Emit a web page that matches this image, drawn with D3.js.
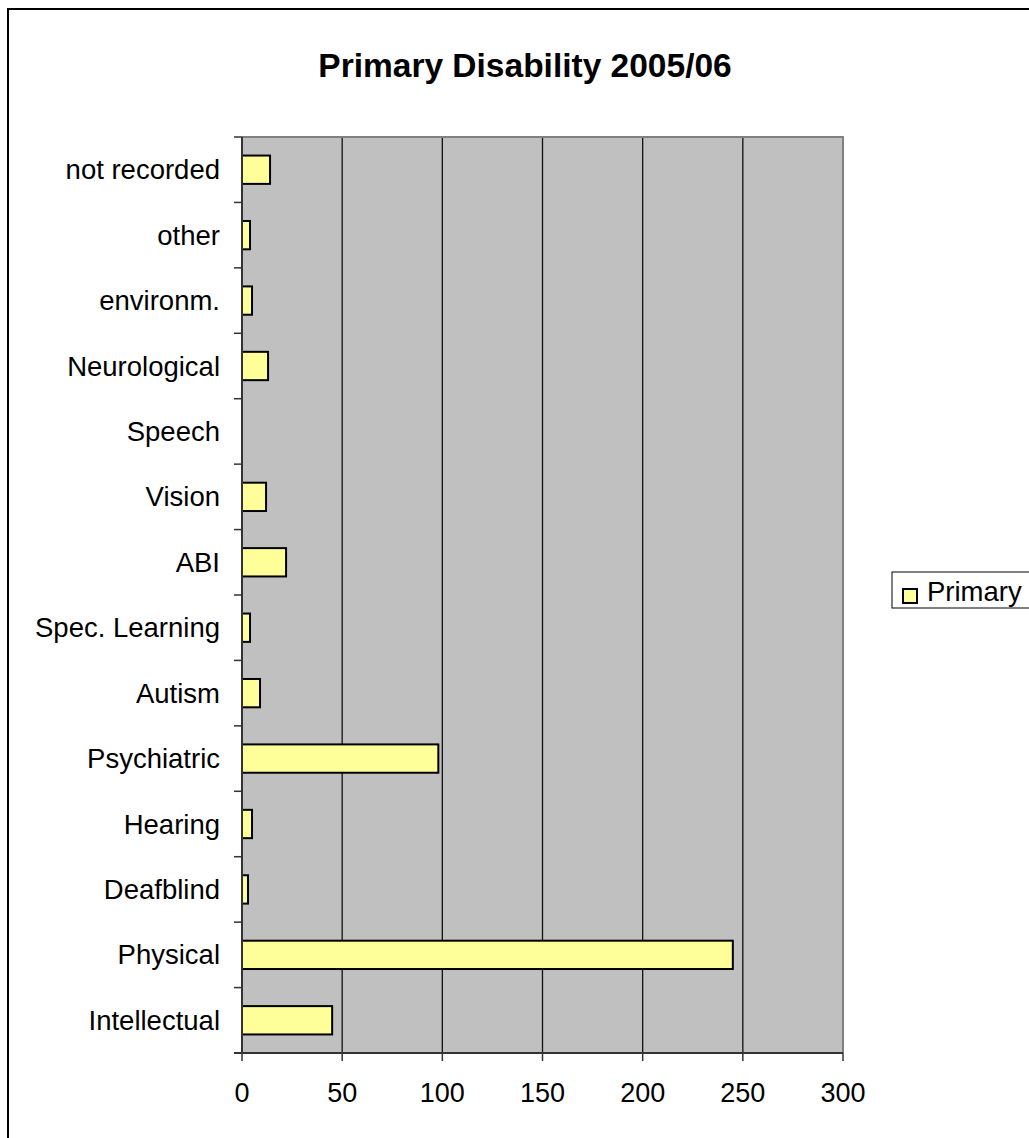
<!DOCTYPE html>
<html>
<head>
<meta charset="utf-8">
<script src="https://cdn.jsdelivr.net/npm/d3@7"></script>
<style>
  html, body { margin: 0; padding: 0; background: #fff; }
  svg { display: block; font-family: "Liberation Sans", Arial, sans-serif; }
</style>
</head>
<body>
<svg id="chart" width="1029" height="1138"></svg>
<script>
// Number of clients by primary disability, 2005/06
const categories = ["Intellectual", "Physical", "Deafblind", "Hearing", "Psychiatric", "Autism",
  "Spec. Learning", "ABI", "Vision", "Speech", "Neurological", "environm.", "other", "not recorded"];
const primaryValues = [45, 245, 3, 5, 98, 9, 4, 22, 12, 0, 13, 5, 4, 14];
const xTicks = [0, 50, 100, 150, 200, 250, 300];
const seriesName = "Primary";
const chartTitle = "Primary Disability 2005/06";

const data = categories.map((c, i) => ({ category: c, value: primaryValues[i] }));

const svg = d3.select("#chart");
const plot = { left: 242, right: 843, top: 137, bottom: 1053 };
const labelSize = 27.5;

// Outer chart frame (extends past the right and bottom edges)
svg.append("rect")
  .attr("x", 8).attr("y", 9).attr("width", 1100).attr("height", 1200)
  .attr("fill", "#fff").attr("stroke", "#000").attr("stroke-width", 2);

// Title
svg.append("text")
  .attr("x", 525).attr("y", 77)
  .attr("text-anchor", "middle")
  .attr("font-weight", "bold").attr("font-size", 33.5)
  .text(chartTitle);

const x = d3.scaleLinear().domain([0, 300]).range([plot.left, plot.right]);
const pad = 0.567;
const y = d3.scaleBand()
  .domain(categories.slice().reverse())
  .range([plot.top, plot.bottom])
  .paddingInner(pad).paddingOuter(pad / 2);
const step = y.step();

// Plot area background
svg.append("rect")
  .attr("x", plot.left).attr("y", plot.top)
  .attr("width", plot.right - plot.left).attr("height", plot.bottom - plot.top)
  .attr("fill", "#c0c0c0");

// Vertical gridlines
svg.append("g").selectAll("line")
  .data(xTicks.filter(t => t > 0 && t < 300))
  .join("line")
  .attr("x1", d => x(d)).attr("x2", d => x(d))
  .attr("y1", plot.top).attr("y2", plot.bottom)
  .attr("stroke", "#111").attr("stroke-width", 1.3);

// Plot area border: top and right in grey
svg.append("path")
  .attr("d", `M${plot.left},${plot.top}H${plot.right}V${plot.bottom}`)
  .attr("fill", "none").attr("stroke", "#808080").attr("stroke-width", 2);

// Bars
svg.append("g").selectAll("rect")
  .data(data.filter(d => d.value > 0))
  .join("rect")
  .attr("x", x(0))
  .attr("y", d => y(d.category))
  .attr("width", d => x(d.value) - x(0))
  .attr("height", y.bandwidth())
  .attr("fill", "#ffff99")
  .attr("stroke", "#000").attr("stroke-width", 2);

// Category axis: ticks sit on band boundaries
const yAxis = svg.append("g");
const boundaries = categories.slice().reverse().map(c => y(c) - step * pad / 2);
boundaries.push(plot.bottom);
yAxis.selectAll("line.tick")
  .data(boundaries)
  .join("line")
  .attr("class", "tick")
  .attr("x1", plot.left - 8).attr("x2", plot.left)
  .attr("y1", d => d).attr("y2", d => d)
  .attr("stroke", "#333").attr("stroke-width", 1.5);
yAxis.selectAll("text")
  .data(categories)
  .join("text")
  .attr("x", plot.left - 22)
  .attr("y", d => y(d) + y.bandwidth() / 2)
  .attr("dy", "0.35em")
  .attr("text-anchor", "end")
  .attr("font-size", labelSize)
  .text(d => d);

// Value axis
const xAxis = svg.append("g");
xAxis.selectAll("line.tick")
  .data(xTicks)
  .join("line")
  .attr("class", "tick")
  .attr("x1", d => x(d)).attr("x2", d => x(d))
  .attr("y1", plot.bottom).attr("y2", plot.bottom + 8)
  .attr("stroke", "#333").attr("stroke-width", 1.5);
xAxis.selectAll("text")
  .data(xTicks)
  .join("text")
  .attr("x", d => x(d))
  .attr("y", plot.bottom + 49)
  .attr("text-anchor", "middle")
  .attr("font-size", 27)
  .text(d => d);

// Axis lines
svg.append("line")
  .attr("x1", plot.left).attr("x2", plot.left)
  .attr("y1", plot.top).attr("y2", plot.bottom)
  .attr("stroke", "#333").attr("stroke-width", 2);
svg.append("line")
  .attr("x1", plot.left - 8).attr("x2", plot.right)
  .attr("y1", plot.bottom).attr("y2", plot.bottom)
  .attr("stroke", "#333").attr("stroke-width", 2);

// Legend
const legend = svg.append("g");
legend.append("rect")
  .attr("x", 892).attr("y", 572).attr("width", 200).attr("height", 36)
  .attr("fill", "#fff").attr("stroke", "#000").attr("stroke-width", 1);
legend.append("rect")
  .attr("x", 903).attr("y", 589).attr("width", 14).attr("height", 14)
  .attr("fill", "#ffff99").attr("stroke", "#000").attr("stroke-width", 2);
legend.append("text")
  .attr("x", 927).attr("y", 601)
  .attr("font-size", labelSize)
  .text(seriesName);
</script>
</body>
</html>
